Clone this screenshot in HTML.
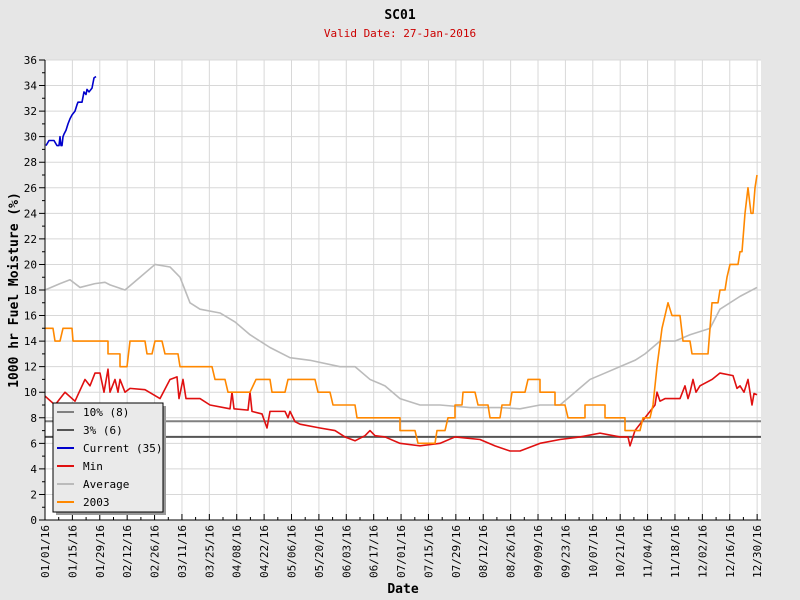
<!DOCTYPE html>
<html><head><meta charset="utf-8"><style>
body{margin:0;background:#e6e6e6;}
svg{display:block;font-family:"DejaVu Sans Mono","Liberation Mono",monospace;}
</style></head><body>
<svg width="800" height="600" viewBox="0 0 800 600">
<rect width="800" height="600" fill="#e6e6e6"/>
<text x="400" y="19" text-anchor="middle" font-size="13" font-weight="bold">SC01</text>
<text x="400" y="37" text-anchor="middle" font-size="11" fill="#cc0000">Valid Date: 27-Jan-2016</text>
<rect x="45" y="60" width="716" height="460" fill="#fff"/>
<path stroke="#d8d8d8" stroke-width="1" fill="none" d="M45 494.44H761M45 468.89H761M45 443.33H761M45 417.78H761M45 392.22H761M45 366.67H761M45 341.11H761M45 315.56H761M45 290H761M45 264.44H761M45 238.89H761M45 213.33H761M45 187.78H761M45 162.22H761M45 136.67H761M45 111.11H761M45 85.56H761M45 60H761
M72.39 60V520M99.78 60V520M127.17 60V520M154.56 60V520M181.95 60V520M209.34 60V520M236.73 60V520M264.12 60V520M291.51 60V520M318.9 60V520M346.29 60V520M373.68 60V520M401.07 60V520M428.46 60V520M455.85 60V520M483.24 60V520M510.63 60V520M538.02 60V520M565.41 60V520M592.8 60V520M620.19 60V520M647.58 60V520M674.97 60V520M702.36 60V520M729.75 60V520M757.14 60V520"/>
<path stroke="#000" stroke-width="1" fill="none" d="M39 520H45M39 494.44H45M39 468.89H45M39 443.33H45M39 417.78H45M39 392.22H45M39 366.67H45M39 341.11H45M39 315.56H45M39 290H45M39 264.44H45M39 238.89H45M39 213.33H45M39 187.78H45M39 162.22H45M39 136.67H45M39 111.11H45M39 85.56H45M39 60H45
M42 507.2H45M42 481.7H45M42 456.1H45M42 430.6H45M42 405H45M42 379.4H45M42 353.9H45M42 328.3H45M42 302.8H45M42 277.2H45M42 251.7H45M42 226.1H45M42 200.6H45M42 175H45M42 149.4H45M42 123.9H45M42 98.3H45M42 72.8H45
M45 514V520M72.39 514V520M99.78 514V520M127.17 514V520M154.56 514V520M181.95 514V520M209.34 514V520M236.73 514V520M264.12 514V520M291.51 514V520M318.9 514V520M346.29 514V520M373.68 514V520M401.07 514V520M428.46 514V520M455.85 514V520M483.24 514V520M510.63 514V520M538.02 514V520M565.41 514V520M592.8 514V520M620.19 514V520M647.58 514V520M674.97 514V520M702.36 514V520M729.75 514V520M757.14 514V520
M58.7 517V520M86.1 517V520M113.5 517V520M140.9 517V520M168.3 517V520M195.6 517V520M223 517V520M250.4 517V520M277.8 517V520M305.2 517V520M332.6 517V520M360 517V520M387.4 517V520M414.8 517V520M442.2 517V520M469.5 517V520M496.9 517V520M524.3 517V520M551.7 517V520M579.1 517V520M606.5 517V520M633.9 517V520M661.3 517V520M688.7 517V520M716.1 517V520M743.4 517V520"/>
<g font-size="11" text-anchor="end">
<text x="37" y="524">0</text><text x="37" y="498.4">2</text><text x="37" y="472.9">4</text><text x="37" y="447.3">6</text><text x="37" y="421.8">8</text><text x="37" y="396.2">10</text><text x="37" y="370.7">12</text><text x="37" y="345.1">14</text><text x="37" y="319.6">16</text><text x="37" y="294">18</text><text x="37" y="268.4">20</text><text x="37" y="242.9">22</text><text x="37" y="217.3">24</text><text x="37" y="191.8">26</text><text x="37" y="166.2">28</text><text x="37" y="140.7">30</text><text x="37" y="115.1">32</text><text x="37" y="89.6">34</text><text x="37" y="64">36</text>
<text transform="translate(49,525) rotate(-90)">01/01/16</text>
<text transform="translate(76.39,525) rotate(-90)">01/15/16</text>
<text transform="translate(103.78,525) rotate(-90)">01/29/16</text>
<text transform="translate(131.17,525) rotate(-90)">02/12/16</text>
<text transform="translate(158.56,525) rotate(-90)">02/26/16</text>
<text transform="translate(185.95,525) rotate(-90)">03/11/16</text>
<text transform="translate(213.34,525) rotate(-90)">03/25/16</text>
<text transform="translate(240.73,525) rotate(-90)">04/08/16</text>
<text transform="translate(268.12,525) rotate(-90)">04/22/16</text>
<text transform="translate(295.51,525) rotate(-90)">05/06/16</text>
<text transform="translate(322.9,525) rotate(-90)">05/20/16</text>
<text transform="translate(350.29,525) rotate(-90)">06/03/16</text>
<text transform="translate(377.68,525) rotate(-90)">06/17/16</text>
<text transform="translate(405.07,525) rotate(-90)">07/01/16</text>
<text transform="translate(432.46,525) rotate(-90)">07/15/16</text>
<text transform="translate(459.85,525) rotate(-90)">07/29/16</text>
<text transform="translate(487.24,525) rotate(-90)">08/12/16</text>
<text transform="translate(514.63,525) rotate(-90)">08/26/16</text>
<text transform="translate(542.02,525) rotate(-90)">09/09/16</text>
<text transform="translate(569.41,525) rotate(-90)">09/23/16</text>
<text transform="translate(596.8,525) rotate(-90)">10/07/16</text>
<text transform="translate(624.19,525) rotate(-90)">10/21/16</text>
<text transform="translate(651.58,525) rotate(-90)">11/04/16</text>
<text transform="translate(678.97,525) rotate(-90)">11/18/16</text>
<text transform="translate(706.36,525) rotate(-90)">12/02/16</text>
<text transform="translate(733.75,525) rotate(-90)">12/16/16</text>
<text transform="translate(761.14,525) rotate(-90)">12/30/16</text>
</g>
<line x1="45" y1="421.3" x2="761" y2="421.3" stroke="#808080" stroke-width="2"/>
<line x1="45" y1="436.9" x2="761" y2="436.9" stroke="#555" stroke-width="2"/>
<g transform="translate(0,520) scale(1,-12.778)" fill="none" stroke-width="1.6" stroke-linejoin="round">
<polyline vector-effect="non-scaling-stroke" stroke="#bbbbbb" points="45,18 60,18.5 70,18.8 80,18.2 95,18.5 105,18.6 110,18.4 125,18 140,19 155,20 170,19.8 180,19 190,17 200,16.5 220,16.2 235,15.5 250,14.5 270,13.5 290,12.7 310,12.5 340,12 355,12 370,11 385,10.5 400,9.5 420,9 440,9 470,8.8 500,8.8 520,8.7 540,9 560,9 575,10 590,11 605,11.5 620,12 635,12.5 645,13 660,14 675,14 690,14.5 710,15 720,16.5 740,17.5 757,18.2"/>
<polyline vector-effect="non-scaling-stroke" stroke="#e01010" points="45,9.7 55,9 65,10 75,9.3 85,11 90,10.5 95,11.5 100,11.5 104,10 108,11.8 110,10 115,11 118,10 120,11 125,10 130,10.3 145,10.2 160,9.5 170,11 177,11.2 179,9.5 183,11 186,9.5 200,9.5 210,9 230,8.7 232,10 234,8.7 248,8.6 250,10 252,8.5 262,8.3 267,7.2 270,8.5 285,8.5 288,8 290,8.5 295,7.7 300,7.5 320,7.2 335,7 345,6.5 355,6.2 365,6.6 370,7 375,6.6 385,6.5 400,6 420,5.8 440,6 455,6.5 480,6.3 495,5.8 510,5.4 520,5.4 540,6 560,6.3 580,6.5 600,6.8 620,6.5 628,6.5 630,5.8 635,7 645,8 655,9 657,10 660,9.3 665,9.5 680,9.5 685,10.5 688,9.5 690,10 693,11 696,10 700,10.5 712,11 720,11.5 733,11.3 737,10.3 740,10.5 744,10 748,11 752,9 754,9.9 757,9.8"/>
<polyline vector-effect="non-scaling-stroke" stroke="#ff8800" points="45,15 53,15 55,14 60,14 63,15 72,15 73,14 108,14 108,13 120,13 120,12 127,12 130,14 145,14 147,13 152,13 155,14 162,14 165,13 178,13 180,12 212,12 215,11 225,11 228,10 250,10 256,11 270,11 272,10 285,10 288,11 315,11 318,10 330,10 333,9 355,9 357,8 400,8 400,7 415,7 418,6 435,6 437,7 445,7 448,8 455,8 455,9 462,9 463,10 475,10 478,9 488,9 490,8 500,8 502,9 510,9 512,10 525,10 528,11 540,11 540,10 555,10 555,9 565,9 568,8 585,8 585,9 605,9 605,8 625,8 625,7 640,7 643,8 650,8 653,9 657,12 662,15 665,16 668,17 672,16 680,16 683,14 690,14 692,13 708,13 710,15 712,17 718,17 720,18 725,18 727,19 730,20 738,20 740,21 742,21 745,24 748,26 751,24 753,24 755,26 757,27"/>
<polyline vector-effect="non-scaling-stroke" stroke="#0000cc" points="46,29.3 49,29.7 54,29.7 57,29.3 59,29.3 60,30 61,29.3 62,29.3 63,30 64,30.2 66,30.5 68,31 70,31.4 72,31.7 75,32 77,32.5 78,32.7 82,32.7 84,33.5 86,33.3 87,33.7 89,33.5 92,33.8 94,34.6 96,34.7"/>
</g>
<line x1="45" y1="60" x2="45" y2="520" stroke="#000"/>
<line x1="45" y1="520" x2="761" y2="520" stroke="#000"/>
<rect x="56" y="406" width="110" height="109" fill="#999"/>
<rect x="53" y="403" width="110" height="109" fill="#eaeaea" stroke="#000"/>
<g font-size="11">
<line x1="57" y1="412" x2="74" y2="412" stroke="#808080" stroke-width="2"/><text x="83" y="416">10% (8)</text>
<line x1="57" y1="430" x2="74" y2="430" stroke="#555" stroke-width="2"/><text x="83" y="434">3% (6)</text>
<line x1="57" y1="448" x2="74" y2="448" stroke="#0000cc" stroke-width="2"/><text x="83" y="452">Current (35)</text>
<line x1="57" y1="466" x2="74" y2="466" stroke="#e01010" stroke-width="2"/><text x="83" y="470">Min</text>
<line x1="57" y1="484" x2="74" y2="484" stroke="#bbb" stroke-width="2"/><text x="83" y="488">Average</text>
<line x1="57" y1="502" x2="74" y2="502" stroke="#ff8800" stroke-width="2"/><text x="83" y="506">2003</text>
</g>
<text transform="translate(18,290) rotate(-90)" text-anchor="middle" font-size="13" font-weight="bold">1000 hr Fuel Moisture (%)</text>
<text x="403" y="593" text-anchor="middle" font-size="13" font-weight="bold">Date</text>
</svg>
</body></html>
